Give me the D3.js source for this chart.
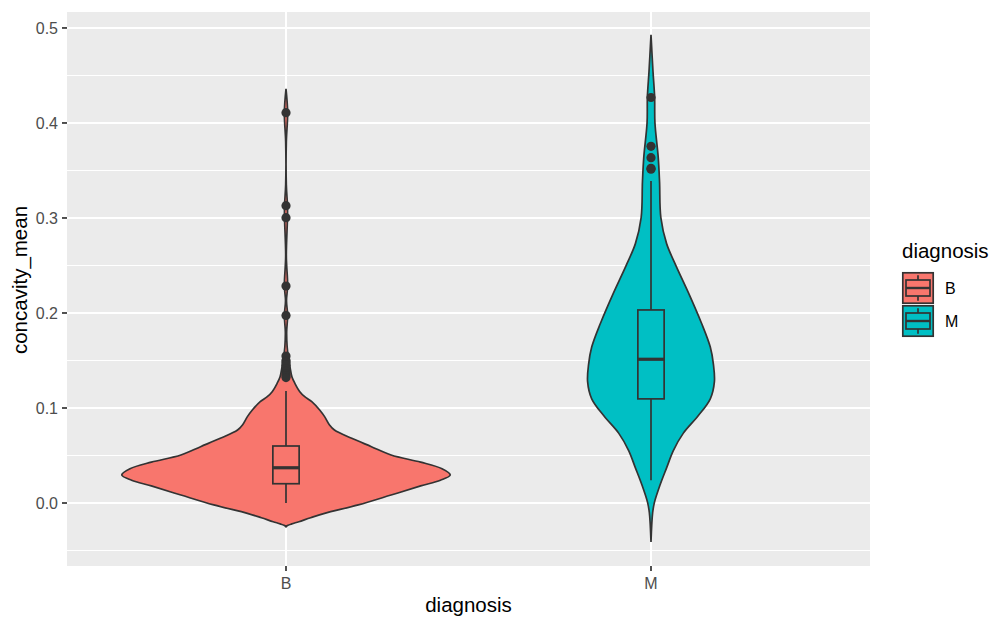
<!DOCTYPE html>
<html>
<head>
<meta charset="utf-8">
<script src="https://cdn.jsdelivr.net/npm/d3@7"></script>
<style>
  body { margin: 0; background: #fff; }
  text { font-family: "Liberation Sans", Arial, sans-serif; }
</style>
</head>
<body>
<div id="chart"></div>
<script>
// groups on the x axis
let categories = ['B', 'M'];

// y axis ticks (major) and minor grid
let yTicks = [0, 0.1, 0.2, 0.3, 0.4, 0.5];
let yMinor = [-0.05, 0.05, 0.15, 0.25, 0.35, 0.45];

// violin outlines: [concavity_mean, relative density]
let violinB = [
  [-0.025, 0], [-0.0235, 0.012], [-0.022, 0.035], [-0.0197, 0.078], [-0.0155, 0.15],
  [-0.0109, 0.235], [-0.002, 0.44], [0.0084, 0.64],
  [0.018, 0.82], [0.024, 0.94], [0.0295, 1.0], [0.036, 0.95], [0.043, 0.82],
  [0.0505, 0.64], [0.0593, 0.52], [0.0681, 0.40], [0.0768, 0.295], [0.0821, 0.265],
  [0.0909, 0.235], [0.0979, 0.205], [0.1067, 0.157], [0.1119, 0.114], [0.1172, 0.084],
  [0.126, 0.054], [0.133, 0.036], [0.1435, 0.024], [0.154, 0.014], [0.1645, 0.007],
  [0.18, 0.004], [0.1976, 0.010], [0.213, 0.003], [0.2283, 0.010], [0.26, 0.002],
  [0.3003, 0.009], [0.313, 0.009], [0.335, 0.002], [0.38, 0.002], [0.4108, 0.010],
  [0.4358, 0]
];
let violinM = [
  [-0.041, 0], [-0.0102, 0.010], [0.0007, 0.021], [0.0189, 0.055], [0.037, 0.095],
  [0.0552, 0.136], [0.0733, 0.196], [0.0915, 0.286], [0.1097, 0.361], [0.1278, 0.386],
  [0.146, 0.38], [0.1641, 0.361], [0.1895, 0.307], [0.2186, 0.235], [0.2502, 0.151],
  [0.273, 0.095], [0.3003, 0.060], [0.3384, 0.052], [0.3638, 0.044], [0.4001, 0.024],
  [0.4274, 0.022], [0.4546, 0.012], [0.4927, 0]
];

// box stats: [lower whisker, q1, median, q3, upper whisker]
let boxB = [0.0, 0.0203, 0.0371, 0.0600, 0.1180];
let boxM = [0.0240, 0.1096, 0.1513, 0.2032, 0.3390];

let outliersB = [0.4108, 0.3130, 0.3003, 0.2283, 0.1974, 0.1546, 0.1500, 0.1480,
  0.1450, 0.1412, 0.1385, 0.1357, 0.1340, 0.1320];
let outliersM = [0.4268, 0.3754, 0.3635, 0.3523, 0.3514];

let groups = [
  { key: 'B', violin: violinB, box: boxB, out: outliersB, fill: '#F8766D' },
  { key: 'M', violin: violinM, box: boxM, out: outliersM, fill: '#00BFC4' }
];

let width = 996,
  height = 621;
let margin = { top: 12, right: 126, bottom: 55, left: 67 };
let ink = '#333333';
let lw = 1.7;

let svg = d3
  .select('#chart')
  .append('svg')
  .attr('width', width)
  .attr('height', height);

let x = d3.scaleLinear()
  .domain([0.4, categories.length + 0.6])
  .range([margin.left, width - margin.right]);

let y = d3.scaleLinear()
  .domain([-0.0663, 0.5168])
  .range([height - margin.bottom, margin.top]);

// density -> half width in x units (max violin width 0.9)
let w = d3.scaleLinear().domain([0, 1]).range([0, 0.45]);
let boxHalf = 0.036;

// panel background
svg.append('rect')
  .attr('x', x.range()[0])
  .attr('y', y.range()[1])
  .attr('width', x.range()[1] - x.range()[0])
  .attr('height', y.range()[0] - y.range()[1])
  .attr('fill', '#EBEBEB');

// grid
svg.selectAll('.minor')
  .data(yMinor)
  .enter()
  .append('line')
  .attr('x1', x.range()[0])
  .attr('x2', x.range()[1])
  .attr('y1', d => y(d))
  .attr('y2', d => y(d))
  .attr('stroke', '#fff')
  .attr('stroke-width', 1);

svg.selectAll('.major')
  .data(yTicks)
  .enter()
  .append('line')
  .attr('x1', x.range()[0])
  .attr('x2', x.range()[1])
  .attr('y1', d => y(d))
  .attr('y2', d => y(d))
  .attr('stroke', '#fff')
  .attr('stroke-width', 2);

svg.selectAll('.vgrid')
  .data(categories)
  .enter()
  .append('line')
  .attr('x1', (d, i) => x(i + 1))
  .attr('x2', (d, i) => x(i + 1))
  .attr('y1', y.range()[0])
  .attr('y2', y.range()[1])
  .attr('stroke', '#fff')
  .attr('stroke-width', 2);

// violins
groups.forEach((g, i) => {
  let c = i + 1;
  let area = d3.area()
    .y(d => y(d[0]))
    .x0(d => x(c - w(d[1])))
    .x1(d => x(c + w(d[1])))
    .curve(d3.curveCatmullRom);

  svg.append('path')
    .datum(g.violin)
    .attr('d', area)
    .attr('fill', g.fill)
    .attr('stroke', ink)
    .attr('stroke-width', lw);

  let b = g.box;
  let bx = svg.append('g').attr('fill', 'none').attr('stroke', ink);

  // whiskers
  bx.append('line')
    .attr('x1', x(c)).attr('x2', x(c))
    .attr('y1', y(b[3])).attr('y2', y(b[4]))
    .attr('stroke-width', lw);
  bx.append('line')
    .attr('x1', x(c)).attr('x2', x(c))
    .attr('y1', y(b[0])).attr('y2', y(b[1]))
    .attr('stroke-width', lw);

  bx.append('rect')
    .attr('x', x(c - boxHalf))
    .attr('y', y(b[3]))
    .attr('width', x(c + boxHalf) - x(c - boxHalf))
    .attr('height', y(b[1]) - y(b[3]))
    .attr('fill', g.fill)
    .attr('stroke-width', lw);

  bx.append('line')
    .attr('x1', x(c - boxHalf)).attr('x2', x(c + boxHalf))
    .attr('y1', y(b[2])).attr('y2', y(b[2]))
    .attr('stroke-width', 3.2);

  svg.selectAll('.out' + g.key)
    .data(g.out)
    .enter()
    .append('circle')
    .attr('cx', x(c))
    .attr('cy', d => y(d))
    .attr('r', 4.6)
    .attr('fill', ink);
});

// y axis
let yAxis = svg.append('g');
yAxis.selectAll('line')
  .data(yTicks)
  .enter()
  .append('line')
  .attr('x1', margin.left - 5)
  .attr('x2', margin.left)
  .attr('y1', d => y(d))
  .attr('y2', d => y(d))
  .attr('stroke', ink)
  .attr('stroke-width', lw);
yAxis.selectAll('text')
  .data(yTicks)
  .enter()
  .append('text')
  .attr('x', margin.left - 9)
  .attr('y', d => y(d))
  .attr('dy', '0.35em')
  .attr('text-anchor', 'end')
  .attr('font-size', 16)
  .attr('fill', '#4D4D4D')
  .text(d3.format('.1f'));

// x axis
let xAxis = svg.append('g');
xAxis.selectAll('line')
  .data(categories)
  .enter()
  .append('line')
  .attr('x1', (d, i) => x(i + 1))
  .attr('x2', (d, i) => x(i + 1))
  .attr('y1', y.range()[0])
  .attr('y2', y.range()[0] + 5)
  .attr('stroke', ink)
  .attr('stroke-width', lw);
xAxis.selectAll('text')
  .data(categories)
  .enter()
  .append('text')
  .attr('x', (d, i) => x(i + 1))
  .attr('y', y.range()[0] + 23)
  .attr('text-anchor', 'middle')
  .attr('font-size', 16)
  .attr('fill', '#4D4D4D')
  .text(d => d);

// axis titles
svg.append('text')
  .attr('x', (x.range()[0] + x.range()[1]) / 2)
  .attr('y', 612)
  .attr('text-anchor', 'middle')
  .attr('font-size', 20.5)
  .attr('fill', '#000')
  .text('diagnosis');

svg.append('text')
  .attr('transform', 'translate(27,280) rotate(-90)')
  .attr('text-anchor', 'middle')
  .attr('font-size', 20.5)
  .attr('fill', '#000')
  .text('concavity_mean');

// legend
let lg = svg.append('g').attr('transform', 'translate(902,258)');
lg.append('text')
  .attr('x', 0)
  .attr('y', 0)
  .attr('font-size', 20.5)
  .attr('fill', '#000')
  .text('diagnosis');

let key = 32;
let keys = lg.selectAll('.key')
  .data(groups)
  .enter()
  .append('g')
  .attr('transform', (d, i) => `translate(0,${14 + i * (key + 1)})`);

keys.append('rect')
  .attr('x', 0.8).attr('y', 0.8)
  .attr('width', key - 1.6).attr('height', key - 1.6)
  .attr('fill', d => d.fill)
  .attr('stroke', ink)
  .attr('stroke-width', lw);
keys.append('rect')
  .attr('x', key * 0.125).attr('y', key * 0.25)
  .attr('width', key * 0.75).attr('height', key * 0.5)
  .attr('fill', 'none')
  .attr('stroke', ink)
  .attr('stroke-width', lw);
keys.append('line')
  .attr('x1', key * 0.125).attr('x2', key * 0.875)
  .attr('y1', key / 2).attr('y2', key / 2)
  .attr('stroke', ink)
  .attr('stroke-width', 2.4);
keys.append('line')
  .attr('x1', key / 2).attr('x2', key / 2)
  .attr('y1', key * 0.1).attr('y2', key * 0.25)
  .attr('stroke', ink)
  .attr('stroke-width', lw);
keys.append('line')
  .attr('x1', key / 2).attr('x2', key / 2)
  .attr('y1', key * 0.75).attr('y2', key * 0.9)
  .attr('stroke', ink)
  .attr('stroke-width', lw);
keys.append('text')
  .attr('x', key + 11)
  .attr('y', key / 2)
  .attr('dy', '0.35em')
  .attr('font-size', 16)
  .attr('fill', '#000')
  .text(d => d.key);
</script>
</body>
</html>
